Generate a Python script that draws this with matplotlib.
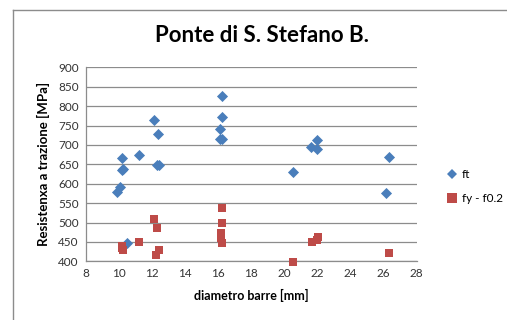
import matplotlib
matplotlib.use("Agg")
import matplotlib.pyplot as plt
from matplotlib.lines import Line2D

plt.rcParams['font.family'] = ['Lato', 'DejaVu Sans']

title = "Ponte di S. Stefano B."
xlabel = "diametro barre [mm]"
ylabel = "Resistenxa a trazione [MPa]"

ft_x = [9.87, 10.07, 10.18, 10.27, 10.22, 10.48, 11.24, 12.11, 12.35, 12.29, 12.43,
        16.22, 16.22, 16.10, 16.11, 16.24, 20.54, 21.60, 21.96, 21.98, 26.33, 26.15]
ft_y = [579, 592, 635, 637, 667, 446, 673, 763, 729, 647, 647,
        827, 773, 742, 715, 715, 630, 694, 690, 713, 670, 577]

fy_x = [10.18, 10.20, 10.24, 11.24, 12.15, 12.33, 12.43, 12.23,
        16.24, 16.22, 16.18, 16.18, 16.22, 20.51, 21.66, 21.96, 22.02, 26.31]
fy_y = [440, 434, 429, 450, 508, 487, 429, 416,
        537, 498, 472, 459, 446, 398, 450, 455, 463, 421]

series_names = ["ft", "fy - f0.2"]
xticks = list(range(8, 29, 2))
yticks = list(range(400, 901, 50))

blue = '#4A7EBB'
red = '#BE4B48'

fig = plt.figure(figsize=(5.07, 3.2), dpi=100)
ax = fig.add_axes([85.7/507, 1-261.3/320, (416.7-85.7)/507, (261.3-67.3)/320])

ax.scatter(ft_x, ft_y, marker='D', s=32, color=blue, linewidths=0, clip_on=False, zorder=3)
ax.scatter(fy_x, fy_y, marker='s', s=40, color=red, linewidths=0, clip_on=False, zorder=3)

ax.set_xlim(8, 28)
ax.set_ylim(400, 900)
ax.set_xticks(xticks)
ax.set_yticks(yticks)
ax.set_xticklabels([str(t) for t in xticks], fontsize=8.5, color='#333333')
ax.set_yticklabels([str(t) for t in yticks], fontsize=8.5, color='#333333')
ax.tick_params(length=0, pad=5)
ax.yaxis.grid(True, color='#8C8C8C', linewidth=0.9)
ax.set_axisbelow(True)
for s in ['top', 'right']:
    ax.spines[s].set_visible(False)
for s in ['left', 'bottom']:
    ax.spines[s].set_color('#8C8C8C')
    ax.spines[s].set_linewidth(0.9)

ax.set_xlabel(xlabel, fontsize=9, fontweight='bold', labelpad=7)
ax.set_ylabel(ylabel, fontsize=9.5, fontweight='bold', labelpad=6)
fig.text(262/507, 1-36/320, title, fontsize=16, fontweight='bold', ha='center', va='center')

handles = [Line2D([], [], marker='D', linestyle='none', color=blue, markersize=5.5, markeredgewidth=0),
           Line2D([], [], marker='s', linestyle='none', color=red, markersize=6.5, markeredgewidth=0)]
fig.legend(handles, series_names, loc='upper left', bbox_to_anchor=(438/507, 1-164/320),
           frameon=False, fontsize=8.5, handletextpad=0.1, labelspacing=1.1,
           handlelength=1.5, borderaxespad=0)

# outer chart frame (left and top edges visible)
fig.add_artist(Line2D([12.7/507, 12.7/507], [0, 1-10.3/320], transform=fig.transFigure,
                      color='#8C8C8C', linewidth=1))
fig.add_artist(Line2D([12.7/507, 1], [1-10.3/320, 1-10.3/320], transform=fig.transFigure,
                      color='#8C8C8C', linewidth=1))

fig.savefig('out.png', dpi=100)
